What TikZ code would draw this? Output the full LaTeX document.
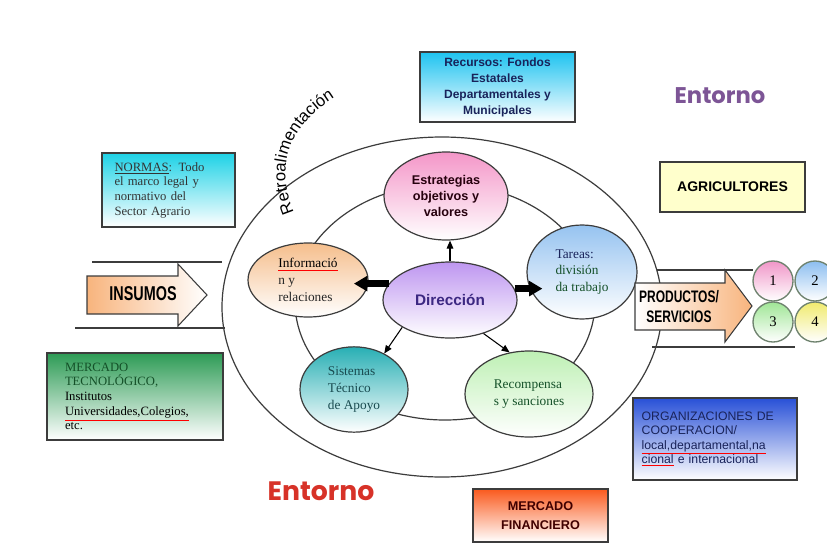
\documentclass[tikz,border=0pt]{standalone}
\usepackage{fontspec}
\setmainfont{Liberation Serif}
\newfontfamily\arialf{Liberation Sans}
\newfontfamily\narrowf[FakeStretch=0.72]{Liberation Sans}
\newfontfamily\roundf{Poppins}
\usetikzlibrary{shapes.geometric,arrows.meta,decorations.text,calc}

\definecolor{edgegray}{RGB}{60,60,60}
\definecolor{cyanbox}{RGB}{30,210,230}
\definecolor{skybox}{RGB}{30,195,240}
\definecolor{greenbox}{RGB}{45,155,85}
\definecolor{bluebox}{RGB}{40,80,215}
\definecolor{orangebox}{RGB}{250,90,30}
\definecolor{yellowbox}{RGB}{255,255,204}
\definecolor{pinkfill}{RGB}{244,150,200}
\definecolor{peachfill}{RGB}{245,190,140}
\definecolor{lavfill}{RGB}{190,150,240}
\definecolor{bluefill}{RGB}{150,195,240}
\definecolor{tealfill}{RGB}{40,175,180}
\definecolor{greenfill}{RGB}{190,240,180}
\definecolor{arrowpeach}{RGB}{248,180,125}
\definecolor{navytext}{RGB}{25,35,90}
\definecolor{dirtext}{RGB}{60,40,130}
\definecolor{darkgreen}{RGB}{20,80,40}
\definecolor{tealtext}{RGB}{25,75,80}
\definecolor{entornopurple}{RGB}{125,85,150}
\definecolor{entornored}{RGB}{215,50,40}
\definecolor{circborder}{RGB}{110,130,110}
\definecolor{pinkc}{RGB}{240,150,200}
\definecolor{bluec}{RGB}{140,190,240}
\definecolor{greenc}{RGB}{160,230,150}
\definecolor{yellowc}{RGB}{240,235,110}

% spell-check style red underline under a word
\newcommand{\redline}[2][black]{{\color{red}\underline{\color{#1}#2}}}

\tikzset{
  bubble/.style={ellipse, draw=edgegray, line width=0.9pt, inner sep=0pt, align=center},
  serifsmall/.style={font=\fontsize{10}{12.5}\selectfont},
  box/.style={rectangle, draw=edgegray, line width=1pt, inner sep=0pt},
  thinarrow/.style={-{Triangle[length=6pt,width=5pt]}, line width=0.8pt},
  blockarrow/.style={-{Triangle[length=10pt,width=11pt]}, line width=5pt},
  ring/.style={draw=edgegray, line width=0.9pt},
  numc/.style={circle, draw=circborder, line width=1pt, minimum size=30pt, inner sep=0pt, bottom color=white, font=\fontsize{11}{11}\selectfont}
}

\begin{document}
\begin{tikzpicture}[x=0.75pt,y=-0.75pt]
\path[use as bounding box, fill=white] (0,0) rectangle (827,553);

% outer environment ellipse and inner ring
\draw[ring] (442,307) ellipse [x radius=220, y radius=170];
\draw[ring] (445,302) ellipse [x radius=150, y radius=118];

% feedback label along the outer ring
\path[decorate, decoration={text along path, text align=left,
  text={|\arialf\fontsize{12.5}{13}\selectfont|Retroalimentación}}]
  (294,212) .. controls (278,175) and (278,125) .. (352,88);

% inner ellipses
\node[bubble, top color=pinkfill, bottom color=white, minimum width=93pt, minimum height=66pt,
      font=\arialf\bfseries\fontsize{9.5}{12}\selectfont, text=black!80!purple] (estr) at (446,196)
      {Estrategias\\objetivos y\\valores};
\node[bubble, serifsmall, top color=peachfill, bottom color=white, minimum width=90pt, minimum height=55.5pt,
      align=left, text=black!85] (info) at (308,280)
      {\redline{Informació}\\n y\\relaciones};
\node[bubble, top color=lavfill, bottom color=white, minimum width=100.5pt, minimum height=57pt,
      font=\arialf\bfseries\fontsize{11.5}{14}\selectfont, text=dirtext] (dir) at (450,300) {Dirección};
\node[bubble, serifsmall, top color=bluefill, bottom color=white, minimum width=82.5pt, minimum height=70.5pt,
      align=left] (tareas) at (582,272)
      {{\color{navytext}Tareas:}\\{\color{darkgreen}división}\\{\color{darkgreen}da trabajo}};
\node[bubble, serifsmall, top color=tealfill, bottom color=white, minimum width=81pt, minimum height=64pt,
      align=left, text=tealtext] (sist) at (354,389.5)
      {Sistemas\\Técnico\\de Apoyo};
\node[bubble, serifsmall, top color=greenfill, bottom color=white, minimum width=96pt, minimum height=64.5pt,
      align=left, text=darkgreen] (recomp) at (529,394)
      {Recompensa\\s y sanciones};

% connectors from the centre
\draw[thinarrow] (dir.north) -- (dir.north |- estr.south);
\draw[thinarrow] (dir.south west) -- (sist.50);
\draw[thinarrow] (dir.-45) -- (recomp.115);
\draw[blockarrow, shorten >=-11pt] (dir.165) -- (dir.165 -| info.east);
\draw[blockarrow, shorten >=-12pt] (dir.10) -- (dir.10 -| tareas.west);

% input arrow
\draw[edgegray, line width=0.9pt] (92,262) -- (222,262);
\draw[edgegray, line width=0.9pt] (75,328) -- (225,328);
\path[draw=edgegray, line width=0.8pt, left color=arrowpeach, right color=white]
  (87,276) -- (178,276) -- (178,264) -- (207,295) -- (178,326) -- (178,314) -- (87,314) -- cycle;
\node[font=\narrowf\bfseries\fontsize{15}{15}\selectfont] (insumos) at (143,294) {INSUMOS};

% output arrow
\draw[edgegray, line width=0.9pt] (657,270) -- (753,270);
\draw[edgegray, line width=0.9pt] (652,347) -- (795,347);
\path[draw=edgegray, line width=0.8pt, left color=white, right color=arrowpeach]
  (635,283) -- (725,283) -- (725,270) -- (752,306) -- (725,342) -- (725,330) -- (635,330) -- cycle;
\node[font=\narrowf\bfseries\fontsize{12.5}{15}\selectfont, align=center] (prod) at (679,307) {PRODUCTOS/\\SERVICIOS};

% numbered products
\node[numc, top color=pinkc] (c1) at (773,281) {1};
\node[numc, top color=bluec] (c2) at (815,281) {2};
\node[numc, top color=greenc] (c3) at (773,322) {3};
\node[numc, top color=yellowc] (c4) at (815,322) {4};

% surrounding boxes
\node[box, top color=cyanbox, bottom color=white, minimum width=99.75pt, minimum height=55.5pt,
      text width=81pt, align=left, font=\fontsize{9.5}{11}\selectfont, text=black!80] (normas) at (168.5,190)
      {\underline{NORMAS}: Todo\\el marco legal y\\normativo del\\Sector Agrario};
\node[box, top color=skybox, bottom color=white, minimum width=116.25pt, minimum height=52.5pt,
      align=center, font=\arialf\bfseries\fontsize{9}{12}\selectfont, text=navytext] (recursos) at (497.5,87)
      {Recursos: Fondos\\Estatales\\Departamentales y\\Municipales};
\node[box, fill=yellowbox, minimum width=108.75pt, minimum height=37.5pt,
      font=\arialf\bfseries\fontsize{10.5}{12}\selectfont] (agri) at (732.5,187) {AGRICULTORES};
\node[box, top color=greenbox, bottom color=white, minimum width=132pt, minimum height=65.25pt,
      text width=105pt, align=left, font=\fontsize{9.5}{11}\selectfont] (mtec) at (135,396.5)
      {{\color{darkgreen}MERCADO}\\{\color{darkgreen}TECNOLÓGICO,}\\Institutos\\\redline{Universidades,Colegios,}\\etc.};
\node[box, top color=bluebox, bottom color=white, minimum width=123pt, minimum height=61.5pt,
      text width=110pt, align=left, font=\arialf\fontsize{9.2}{10.8}\selectfont, text=navytext] (org) at (715,439)
      {ORGANIZACIONES DE\\COOPERACION/\\\redline[navytext]{local,departamental,na}\\\redline[navytext]{cional} e internacional};
\node[box, top color=orangebox, bottom color=white, minimum width=101.25pt, minimum height=39.75pt,
      align=center, font=\arialf\bfseries\fontsize{9.5}{14}\selectfont, text=black!75!red] (mfin) at (540.5,515.5)
      {MERCADO\\FINANCIERO};

% environment labels
\node[font=\roundf\bfseries\fontsize{17}{20}\selectfont, text=entornopurple] (entornoA) at (720,96) {Entorno};
\node[font=\roundf\bfseries\fontsize{20}{24}\selectfont, text=entornored] (entornoB) at (321,491) {Entorno};
\end{tikzpicture}
\end{document}
